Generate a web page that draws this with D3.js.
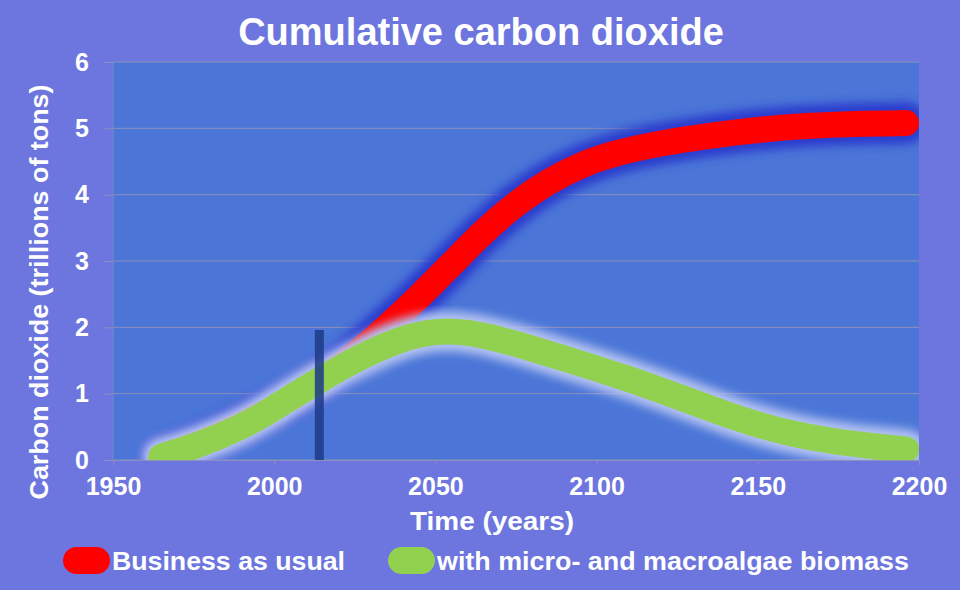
<!DOCTYPE html>
<html>
<head>
<meta charset="utf-8">
<script src="https://cdn.jsdelivr.net/npm/d3@7"></script>
<style>
  body { margin: 0; background: #6c76de; }
  svg { display: block; font-family: "Liberation Sans", Arial, sans-serif; font-weight: bold; }
</style>
</head>
<body>
<div id="chart-area"></div>
<script>
// values (trillions of tons)
let years = [1950, 2000, 2050, 2100, 2150, 2200];
let yTicks = [0, 1, 2, 3, 4, 5, 6];

let bauYears = [1965, 1980, 2000, 2015, 2025, 2035, 2045, 2055, 2065, 2075, 2085, 2095, 2105, 2120, 2135, 2150, 2165, 2180, 2196];
let bauValues = [0.05, 0.3, 0.78, 1.22, 1.58, 2.0, 2.46, 2.95, 3.45, 3.87, 4.2, 4.45, 4.62, 4.78, 4.89, 4.98, 5.04, 5.07, 5.08];

let algaeYears = [1965, 1977, 1990, 1998, 2005, 2014, 2022, 2030, 2040, 2050, 2060, 2070, 2080, 2090, 2100, 2110, 2120, 2130, 2140, 2150, 2160, 2172, 2185, 2196];
let algaeValues = [0.05, 0.23, 0.5, 0.72, 0.94, 1.2, 1.43, 1.63, 1.84, 1.95, 1.93, 1.82, 1.68, 1.53, 1.38, 1.22, 1.05, 0.87, 0.69, 0.53, 0.4, 0.29, 0.21, 0.16];

let markerYear = 2014;
let markerValue = 1.96;

let seriesNames = ["Business as usual", "with micro- and macroalgae biomass"];

let margin = { left: 113, top: 62, right: 41, bottom: 130 };
let width = 960 - margin.left - margin.right;
let height = 590 - margin.top - margin.bottom;

let svg = d3.select("#chart-area")
	.append("svg")
	.attr("width", 960)
	.attr("height", 590);

let defs = svg.append("defs");
defs.append("clipPath").attr("id", "plot-clip")
	.append("rect").attr("width", width).attr("height", height);
let blur = defs.append("filter").attr("id", "glow")
	.attr("x", "-20%").attr("y", "-20%").attr("width", "140%").attr("height", "140%");
blur.append("feGaussianBlur").attr("stdDeviation", 5);

svg.append("text")
	.attr("x", 481)
	.attr("y", 45)
	.attr("text-anchor", "middle")
	.attr("font-size", "38px")
	.attr("fill", "white")
	.text("Cumulative carbon dioxide");

let g = svg.append("g")
	.attr("transform", `translate(${margin.left}, ${margin.top})`);

g.append("rect")
	.attr("width", width)
	.attr("height", height)
	.attr("fill", "#4b76d7");

let xScale = d3.scaleLinear().domain([1950, 2200]).range([0, width]);
let yScale = d3.scaleLinear().domain([0, 6]).range([height, 0]);

// grid + y axis
let yAxisCall = d3.axisLeft(yScale)
	.tickValues(yTicks)
	.tickSize(9)
	.tickPadding(15)
	.tickFormat(d3.format("d"));
let yAxis = g.append("g").call(yAxisCall);
yAxis.select(".domain").remove();
yAxis.selectAll(".tick line").attr("stroke", "#8d90b8");
yAxis.selectAll(".tick text")
	.attr("fill", "white")
	.attr("font-size", "25px")
	.attr("font-family", "Liberation Sans, Arial, sans-serif")
	.attr("font-weight", "bold");

g.append("g")
	.selectAll("line")
	.data(yTicks)
	.enter().append("line")
	.attr("x1", 0)
	.attr("x2", width)
	.attr("y1", d => yScale(d))
	.attr("y2", d => yScale(d))
	.attr("stroke", "#8d90b8")
	.attr("stroke-width", 1);

g.append("line")
	.attr("x1", 0).attr("x2", 0)
	.attr("y1", 0).attr("y2", height)
	.attr("stroke", "#7d86c4");

let xAxisCall = d3.axisBottom(xScale)
	.tickValues(years)
	.tickSize(5)
	.tickPadding(12)
	.tickFormat(d3.format("d"));
let xAxis = g.append("g")
	.attr("transform", `translate(0, ${height})`)
	.call(xAxisCall);
xAxis.select(".domain").attr("stroke", "#8d90b8");
xAxis.selectAll(".tick line").attr("stroke", "#8d90b8");
xAxis.selectAll(".tick text")
	.attr("fill", "white")
	.attr("font-size", "25px")
	.attr("font-family", "Liberation Sans, Arial, sans-serif")
	.attr("font-weight", "bold");

// lines
let line = d3.line()
	.x(d => xScale(d[0]))
	.y(d => yScale(d[1]))
	.curve(d3.curveBasis);

let bauData = d3.zip(bauYears, bauValues);
let algaeData = d3.zip(algaeYears, algaeValues);

let plot = g.append("g").attr("clip-path", "url(#plot-clip)");

plot.append("path")
	.attr("d", line(bauData))
	.attr("fill", "none")
	.attr("stroke", "#2b3bce")
	.attr("stroke-width", 42)
	.attr("stroke-linecap", "round")
	.attr("filter", "url(#glow)");
plot.append("path")
	.attr("d", line(bauData))
	.attr("fill", "none")
	.attr("stroke", "#ff0000")
	.attr("stroke-width", 26)
	.attr("stroke-linecap", "round");

plot.append("path")
	.attr("d", line(algaeData))
	.attr("fill", "none")
	.attr("stroke", "#b4c2f2")
	.attr("stroke-width", 40)
	.attr("stroke-linecap", "round")
	.attr("filter", "url(#glow)");
plot.append("path")
	.attr("d", line(algaeData))
	.attr("fill", "none")
	.attr("stroke", "#92d050")
	.attr("stroke-width", 26)
	.attr("stroke-linecap", "round");

// marker bar for today
plot.append("rect")
	.attr("x", xScale(markerYear) - 4.5)
	.attr("y", yScale(markerValue))
	.attr("width", 9)
	.attr("height", yScale(0) - yScale(markerValue))
	.attr("fill", "#1c3a86")
	.attr("opacity", 0.85);

// axis titles
svg.append("text")
	.attr("transform", "translate(48, 292) rotate(-90)")
	.attr("text-anchor", "middle")
	.attr("font-size", "25px")
	.attr("fill", "white")
	.attr("textLength", 415)
	.attr("lengthAdjust", "spacingAndGlyphs")
	.text("Carbon dioxide (trillions of tons)");

svg.append("text")
	.attr("x", 492)
	.attr("y", 530)
	.attr("text-anchor", "middle")
	.attr("font-size", "26px")
	.attr("fill", "white")
	.attr("textLength", 164)
	.attr("lengthAdjust", "spacingAndGlyphs")
	.text("Time (years)");

// legend
let legendColors = ["#ff0000", "#92d050"];
let legendX = [63, 388];
let legendTextLen = [233, 472];
seriesNames.forEach(function(name, i){
	let row = svg.append("g")
		.attr("transform", `translate(${legendX[i]}, 547)`);
	row.append("rect")
		.attr("width", 47)
		.attr("height", 27)
		.attr("rx", 13.5)
		.attr("fill", legendColors[i]);
	row.append("text")
		.attr("x", 49)
		.attr("y", 23)
		.attr("font-size", "25px")
		.attr("fill", "white")
		.attr("textLength", legendTextLen[i])
		.attr("lengthAdjust", "spacingAndGlyphs")
		.text(name);
});
</script>
</body>
</html>
